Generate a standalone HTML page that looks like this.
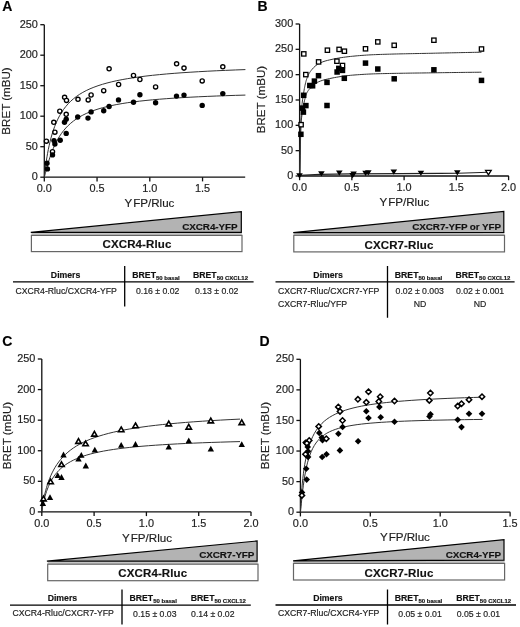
<!DOCTYPE html>
<html><head><meta charset="utf-8"><title>BRET figure</title><style>
html,body{margin:0;padding:0;background:#fff;}
body{width:520px;height:627px;overflow:hidden;}
svg{display:block;filter:blur(0.25px);}
text{font-family:"Liberation Sans", sans-serif;fill:#1e1e1e;stroke:#1e1e1e;stroke-width:0.18px;}
.tk{font-size:10.9px;}
.ti{font-size:11.6px;}
.pl{font-size:14px;font-weight:bold;fill:#000;}
.wt{font-size:9.9px;font-weight:bold;fill:#111;letter-spacing:-0.1px;}
.bt{font-size:11.5px;font-weight:bold;fill:#111;letter-spacing:0.12px;}
.th{font-size:8.7px;font-weight:bold;fill:#111;}
.sub{font-size:6px;}
.tr{font-size:8.7px;}
</style></head>
<body><svg width="520" height="627" viewBox="0 0 520 627">
<rect width="520" height="627" fill="#fff"/>
<path d="M44.3 24.7V177.2H245.2" fill="none" stroke="#111" stroke-width="1.3"/>
<path d="M40.3 177.2H44.3" stroke="#111" stroke-width="1.3"/>
<text x="37.9" y="180.3" text-anchor="end" class="tk">0</text>
<path d="M40.3 146.7H44.3" stroke="#111" stroke-width="1.3"/>
<text x="37.9" y="149.8" text-anchor="end" class="tk">50</text>
<path d="M40.3 116.2H44.3" stroke="#111" stroke-width="1.3"/>
<text x="37.9" y="119.3" text-anchor="end" class="tk">100</text>
<path d="M40.3 85.7H44.3" stroke="#111" stroke-width="1.3"/>
<text x="37.9" y="88.8" text-anchor="end" class="tk">150</text>
<path d="M40.3 55.2H44.3" stroke="#111" stroke-width="1.3"/>
<text x="37.9" y="58.3" text-anchor="end" class="tk">200</text>
<path d="M40.3 24.7H44.3" stroke="#111" stroke-width="1.3"/>
<text x="37.9" y="27.8" text-anchor="end" class="tk">250</text>
<path d="M44.3 177.2V181.4" stroke="#111" stroke-width="1.3"/>
<text x="44.3" y="192.3" text-anchor="middle" class="tk">0.0</text>
<path d="M97.05 177.2V181.4" stroke="#111" stroke-width="1.3"/>
<text x="97.05" y="192.3" text-anchor="middle" class="tk">0.5</text>
<path d="M149.8 177.2V181.4" stroke="#111" stroke-width="1.3"/>
<text x="149.8" y="192.3" text-anchor="middle" class="tk">1.0</text>
<path d="M202.55 177.2V181.4" stroke="#111" stroke-width="1.3"/>
<text x="202.55" y="192.3" text-anchor="middle" class="tk">1.5</text>
<text x="2.2" y="11.4" class="pl">A</text>
<text transform="translate(10.1 101.0) rotate(-90)" text-anchor="middle" class="ti">BRET (mBU)</text>
<text x="149.4" y="207.4" text-anchor="middle" class="ti">Y<tspan dx="1">FP/Rluc</tspan></text>
<path d="M299.6 23.99V176.0H508.8" fill="none" stroke="#111" stroke-width="1.3"/>
<path d="M295.6 176H299.6" stroke="#111" stroke-width="1.3"/>
<text x="293.2" y="179.1" text-anchor="end" class="tk">0</text>
<path d="M295.6 150.66H299.6" stroke="#111" stroke-width="1.3"/>
<text x="293.2" y="153.76" text-anchor="end" class="tk">50</text>
<path d="M295.6 125.33H299.6" stroke="#111" stroke-width="1.3"/>
<text x="293.2" y="128.43" text-anchor="end" class="tk">100</text>
<path d="M295.6 99.99H299.6" stroke="#111" stroke-width="1.3"/>
<text x="293.2" y="103.09" text-anchor="end" class="tk">150</text>
<path d="M295.6 74.66H299.6" stroke="#111" stroke-width="1.3"/>
<text x="293.2" y="77.76" text-anchor="end" class="tk">200</text>
<path d="M295.6 49.32H299.6" stroke="#111" stroke-width="1.3"/>
<text x="293.2" y="52.42" text-anchor="end" class="tk">250</text>
<path d="M295.6 23.99H299.6" stroke="#111" stroke-width="1.3"/>
<text x="293.2" y="27.09" text-anchor="end" class="tk">300</text>
<path d="M299.6 176.0V180.2" stroke="#111" stroke-width="1.3"/>
<text x="299.6" y="191.1" text-anchor="middle" class="tk">0.0</text>
<path d="M351.85 176.0V180.2" stroke="#111" stroke-width="1.3"/>
<text x="351.85" y="191.1" text-anchor="middle" class="tk">0.5</text>
<path d="M404.1 176.0V180.2" stroke="#111" stroke-width="1.3"/>
<text x="404.1" y="191.1" text-anchor="middle" class="tk">1.0</text>
<path d="M456.35 176.0V180.2" stroke="#111" stroke-width="1.3"/>
<text x="456.35" y="191.1" text-anchor="middle" class="tk">1.5</text>
<path d="M508.6 176.0V180.2" stroke="#111" stroke-width="1.3"/>
<text x="508.6" y="191.1" text-anchor="middle" class="tk">2.0</text>
<text x="257.6" y="11.3" class="pl">B</text>
<text transform="translate(264.9 99.6) rotate(-90)" text-anchor="middle" class="ti">BRET (mBU)</text>
<text x="404.4" y="206.3" text-anchor="middle" class="ti">Y<tspan dx="1">FP/Rluc</tspan></text>
<path d="M41.8 359V511.9H251.2" fill="none" stroke="#111" stroke-width="1.3"/>
<path d="M37.8 511.9H41.8" stroke="#111" stroke-width="1.3"/>
<text x="35.4" y="515" text-anchor="end" class="tk">0</text>
<path d="M37.8 481.32H41.8" stroke="#111" stroke-width="1.3"/>
<text x="35.4" y="484.42" text-anchor="end" class="tk">50</text>
<path d="M37.8 450.74H41.8" stroke="#111" stroke-width="1.3"/>
<text x="35.4" y="453.84" text-anchor="end" class="tk">100</text>
<path d="M37.8 420.16H41.8" stroke="#111" stroke-width="1.3"/>
<text x="35.4" y="423.26" text-anchor="end" class="tk">150</text>
<path d="M37.8 389.58H41.8" stroke="#111" stroke-width="1.3"/>
<text x="35.4" y="392.68" text-anchor="end" class="tk">200</text>
<path d="M37.8 359H41.8" stroke="#111" stroke-width="1.3"/>
<text x="35.4" y="362.1" text-anchor="end" class="tk">250</text>
<path d="M41.8 511.9V516.1" stroke="#111" stroke-width="1.3"/>
<text x="41.8" y="527" text-anchor="middle" class="tk">0.0</text>
<path d="M94.1 511.9V516.1" stroke="#111" stroke-width="1.3"/>
<text x="94.1" y="527" text-anchor="middle" class="tk">0.5</text>
<path d="M146.4 511.9V516.1" stroke="#111" stroke-width="1.3"/>
<text x="146.4" y="527" text-anchor="middle" class="tk">1.0</text>
<path d="M198.7 511.9V516.1" stroke="#111" stroke-width="1.3"/>
<text x="198.7" y="527" text-anchor="middle" class="tk">1.5</text>
<path d="M251 511.9V516.1" stroke="#111" stroke-width="1.3"/>
<text x="251" y="527" text-anchor="middle" class="tk">2.0</text>
<text x="2.2" y="346.0" class="pl">C</text>
<text transform="translate(10.6 435.5) rotate(-90)" text-anchor="middle" class="ti">BRET (mBU)</text>
<text x="147.0" y="541.5" text-anchor="middle" class="ti">Y<tspan dx="1">FP/Rluc</tspan></text>
<path d="M300.4 359.3V512.2H510.3" fill="none" stroke="#111" stroke-width="1.3"/>
<path d="M296.4 512.2H300.4" stroke="#111" stroke-width="1.3"/>
<text x="294" y="515.3" text-anchor="end" class="tk">0</text>
<path d="M296.4 481.62H300.4" stroke="#111" stroke-width="1.3"/>
<text x="294" y="484.72" text-anchor="end" class="tk">50</text>
<path d="M296.4 451.04H300.4" stroke="#111" stroke-width="1.3"/>
<text x="294" y="454.14" text-anchor="end" class="tk">100</text>
<path d="M296.4 420.46H300.4" stroke="#111" stroke-width="1.3"/>
<text x="294" y="423.56" text-anchor="end" class="tk">150</text>
<path d="M296.4 389.88H300.4" stroke="#111" stroke-width="1.3"/>
<text x="294" y="392.98" text-anchor="end" class="tk">200</text>
<path d="M296.4 359.3H300.4" stroke="#111" stroke-width="1.3"/>
<text x="294" y="362.4" text-anchor="end" class="tk">250</text>
<path d="M300.4 512.2V516.4" stroke="#111" stroke-width="1.3"/>
<text x="300.4" y="527.3" text-anchor="middle" class="tk">0.0</text>
<path d="M370.3 512.2V516.4" stroke="#111" stroke-width="1.3"/>
<text x="370.3" y="527.3" text-anchor="middle" class="tk">0.5</text>
<path d="M440.2 512.2V516.4" stroke="#111" stroke-width="1.3"/>
<text x="440.2" y="527.3" text-anchor="middle" class="tk">1.0</text>
<path d="M510.1 512.2V516.4" stroke="#111" stroke-width="1.3"/>
<text x="510.1" y="527.3" text-anchor="middle" class="tk">1.5</text>
<text x="259.6" y="346.0" class="pl">D</text>
<text transform="translate(268.8 435.5) rotate(-90)" text-anchor="middle" class="ti">BRET (mBU)</text>
<text x="404.9" y="541.0" text-anchor="middle" class="ti">Y<tspan dx="1">FP/Rluc</tspan></text>
<path d="M44.3 177.2L44.3 177.19L44.31 177.11L44.33 176.91L44.36 176.53L44.42 175.94L44.51 175.09L44.64 173.94L44.8 172.47L45.01 170.67L45.28 168.52L45.6 166.05L45.99 163.26L46.45 160.17L46.99 156.84L47.6 153.29L48.31 149.57L49.11 145.73L50.01 141.82L51.02 137.89L52.13 133.97L53.37 130.11L54.73 126.33L56.21 122.66L57.84 119.12L59.6 115.73L61.51 112.49L63.57 109.42L65.79 106.51L68.18 103.77L70.74 101.19L73.47 98.77L76.39 96.5L79.49 94.38L82.79 92.4L86.28 90.55L89.98 88.82L93.9 87.22L98.03 85.72L102.38 84.32L106.97 83.02L111.79 81.81L116.84 80.67L122.15 79.62L127.71 78.64L133.53 77.72L139.61 76.86L145.96 76.06L152.59 75.31L159.5 74.61L166.7 73.95L174.19 73.33L181.98 72.76L190.08 72.22L198.48 71.71L207.21 71.23L216.26 70.78L225.63 70.36L235.35 69.96L245.4 69.59" fill="none" stroke="#333" stroke-width="1.0"/>
<path d="M44.3 177.2L44.3 177.2L44.31 177.18L44.33 177.13L44.36 177.02L44.42 176.82L44.51 176.51L44.64 176.06L44.8 175.44L45.01 174.63L45.28 173.61L45.6 172.35L45.99 170.86L46.45 169.12L46.99 167.14L47.6 164.93L48.31 162.5L49.11 159.89L50.01 157.12L51.02 154.23L52.13 151.24L53.37 148.21L54.73 145.16L56.21 142.12L57.84 139.13L59.6 136.21L61.51 133.38L63.57 130.65L65.79 128.05L68.18 125.57L70.74 123.22L73.47 121.01L76.39 118.93L79.49 116.98L82.79 115.16L86.28 113.47L89.98 111.89L93.9 110.42L98.03 109.05L102.38 107.78L106.97 106.61L111.79 105.52L116.84 104.51L122.15 103.57L127.71 102.7L133.53 101.9L139.61 101.15L145.96 100.46L152.59 99.81L159.5 99.21L166.7 98.66L174.19 98.14L181.98 97.66L190.08 97.21L198.48 96.79L207.21 96.4L216.26 96.03L225.63 95.69L235.35 95.37L245.4 95.08" fill="none" stroke="#333" stroke-width="1.0"/>
<circle cx="46.4" cy="141.2" r="2.1" fill="#fff" stroke="#000" stroke-width="1.35"/>
<circle cx="53.8" cy="122.3" r="2.1" fill="#fff" stroke="#000" stroke-width="1.35"/>
<circle cx="54.9" cy="132.2" r="2.1" fill="#fff" stroke="#000" stroke-width="1.35"/>
<circle cx="59.8" cy="111.2" r="2.1" fill="#fff" stroke="#000" stroke-width="1.35"/>
<circle cx="66.2" cy="114.3" r="2.1" fill="#fff" stroke="#000" stroke-width="1.35"/>
<circle cx="52.5" cy="151.7" r="2.1" fill="#fff" stroke="#000" stroke-width="1.35"/>
<circle cx="64.6" cy="97.3" r="2.1" fill="#fff" stroke="#000" stroke-width="1.35"/>
<circle cx="66.5" cy="100.4" r="2.1" fill="#fff" stroke="#000" stroke-width="1.35"/>
<circle cx="78" cy="99.3" r="2.1" fill="#fff" stroke="#000" stroke-width="1.35"/>
<circle cx="88.2" cy="99.9" r="2.1" fill="#fff" stroke="#000" stroke-width="1.35"/>
<circle cx="91.1" cy="95" r="2.1" fill="#fff" stroke="#000" stroke-width="1.35"/>
<circle cx="103.7" cy="90.7" r="2.1" fill="#fff" stroke="#000" stroke-width="1.35"/>
<circle cx="109.1" cy="68.8" r="2.1" fill="#fff" stroke="#000" stroke-width="1.35"/>
<circle cx="118.6" cy="84.5" r="2.1" fill="#fff" stroke="#000" stroke-width="1.35"/>
<circle cx="133.5" cy="75.5" r="2.1" fill="#fff" stroke="#000" stroke-width="1.35"/>
<circle cx="139.9" cy="79.5" r="2.1" fill="#fff" stroke="#000" stroke-width="1.35"/>
<circle cx="155.6" cy="86.9" r="2.1" fill="#fff" stroke="#000" stroke-width="1.35"/>
<circle cx="176.6" cy="63.8" r="2.1" fill="#fff" stroke="#000" stroke-width="1.35"/>
<circle cx="184" cy="68.1" r="2.1" fill="#fff" stroke="#000" stroke-width="1.35"/>
<circle cx="202.2" cy="80.9" r="2.1" fill="#fff" stroke="#000" stroke-width="1.35"/>
<circle cx="222.8" cy="66.8" r="2.1" fill="#fff" stroke="#000" stroke-width="1.35"/>
<circle cx="47.0" cy="163.2" r="2.7" fill="#000"/>
<circle cx="47.4" cy="168.9" r="2.7" fill="#000"/>
<circle cx="52.5" cy="154.9" r="2.7" fill="#000"/>
<circle cx="54.0" cy="140.6" r="2.7" fill="#000"/>
<circle cx="54.9" cy="144" r="2.7" fill="#000"/>
<circle cx="60.2" cy="140.2" r="2.7" fill="#000"/>
<circle cx="66.2" cy="133.4" r="2.7" fill="#000"/>
<circle cx="64.5" cy="122.3" r="2.7" fill="#000"/>
<circle cx="66.2" cy="119.2" r="2.7" fill="#000"/>
<circle cx="77.7" cy="117" r="2.7" fill="#000"/>
<circle cx="88" cy="118.1" r="2.7" fill="#000"/>
<circle cx="91.1" cy="111.9" r="2.7" fill="#000"/>
<circle cx="103.7" cy="110.7" r="2.7" fill="#000"/>
<circle cx="109.1" cy="106.5" r="2.7" fill="#000"/>
<circle cx="118.5" cy="99.9" r="2.7" fill="#000"/>
<circle cx="133.5" cy="102.3" r="2.7" fill="#000"/>
<circle cx="139.9" cy="94.8" r="2.7" fill="#000"/>
<circle cx="155.6" cy="102.8" r="2.7" fill="#000"/>
<circle cx="176.5" cy="96.1" r="2.7" fill="#000"/>
<circle cx="184" cy="95.1" r="2.7" fill="#000"/>
<circle cx="202.2" cy="105.4" r="2.7" fill="#000"/>
<circle cx="222.8" cy="93.6" r="2.7" fill="#000"/>
<path d="M299.8 175.4L320 174.4L350 173.9L400 173.6L440 173.4L458 173.2L488.4 172.3" stroke="#222" stroke-width="1.1" fill="none"/>
<path d="M299.8 176L300.11 155.48L300.2 150L300.42 137.15L300.7 124.6L300.72 124.08L301.03 118.98L301.34 115.43L301.5 113.2L301.65 110.57L301.95 105.06L302 104.5L302.1 103.48L302.26 102.03L302.57 99.78L302.88 97.89L303.18 96L303.2 95.9L303.49 93.95L303.8 91.93L304.11 90L304.4 88.33L304.42 88.24L304.6 87.3L304.72 86.71L305.03 85.27L305.34 83.91L305.65 82.63L305.95 81.44L306.26 80.34L306.57 79.36L306.7 78.98L306.8 78.7L306.88 78.49L307.18 77.69L307.49 76.93L307.8 76.2L308.11 75.52L308.42 74.87L308.72 74.26L309 73.74L309.03 73.68L309.34 73.14L309.65 72.63L309.95 72.15L310.26 71.69L310.4 71.5L310.57 71.27L310.88 70.85L311.18 70.45L311.3 70.3L311.49 70.05L311.8 69.67L313.6 67.61L315.9 65.51L317.5 64.4L318.2 63.99L320.5 62.8L322.8 61.82L325.1 61.05L326 60.8L327.4 60.44L329.7 59.88L332 59.36L334.3 58.87L336.6 58.43L338.9 58.02L341.2 57.65L343.5 57.31L345.8 57L348.1 56.71L350.4 56.45L351.9 56.3L352.7 56.22L355 56L357.3 55.79L359.6 55.6L361.9 55.42L364.2 55.25L366.5 55.09L368.8 54.95L371.1 54.82L373.4 54.71L375.7 54.61L376 54.6L378 54.52L380.3 54.44L382.6 54.36L384.9 54.29L387.2 54.22L389.5 54.16L391.8 54.09L394.1 54.03L396.4 53.98L398.7 53.92L401 53.87L403.3 53.82L405.6 53.77L407.9 53.72L410.2 53.68L412.5 53.63L414.8 53.59L417.1 53.54L419.4 53.5L421.7 53.45L424 53.41L426.3 53.36L428.6 53.32L430.9 53.27L433.2 53.22L434 53.2L435.5 53.17L437.8 53.12L440.1 53.06L442.4 53.01L444.7 52.96L447 52.91L449.3 52.86L451.6 52.81L453.9 52.77L456.2 52.72L458.5 52.67L460.8 52.62L463.1 52.57L465.4 52.52L467.7 52.48L470 52.43L472.3 52.38L474.6 52.34L476.9 52.29L479.2 52.25L481.5 52.2" fill="none" stroke="#333" stroke-width="1.0"/>
<path d="M299.8 176L300.11 159.06L300.3 150L300.42 144.94L300.72 132.16L301 124.6L301.03 124.11L301.34 120.11L301.65 117.27L301.95 114.95L302 114.6L302.1 113.87L302.26 112.76L302.57 110.88L302.88 109.16L303.18 107.49L303.2 107.4L303.49 105.77L303.8 104.08L304.11 102.46L304.4 101.06L304.42 100.99L304.6 100.2L304.72 99.7L305.03 98.48L305.34 97.32L305.65 96.22L305.95 95.21L306.26 94.3L306.57 93.51L306.7 93.21L306.8 93L306.88 92.85L307.18 92.26L307.49 91.72L307.8 91.22L308.11 90.75L308.42 90.31L308.72 89.9L309 89.56L309.03 89.52L309.34 89.16L309.65 88.81L309.95 88.47L310.26 88.15L310.4 88L310.57 87.82L310.88 87.51L311.18 87.19L311.3 87.08L311.49 86.89L311.8 86.58L313.6 84.94L315.9 83.21L317.5 82.3L318.2 81.97L320.5 81.02L322.8 80.25L325.1 79.62L326 79.4L327.4 79.08L329.7 78.57L332 78.09L334.3 77.64L336.6 77.22L338.9 76.83L341.2 76.46L343.5 76.13L345.8 75.84L348.1 75.57L350.4 75.33L351.9 75.2L352.7 75.13L355 74.95L357.3 74.77L359.6 74.61L361.9 74.46L364.2 74.32L366.5 74.19L368.8 74.07L371.1 73.97L373.4 73.88L375.7 73.81L376 73.8L378 73.74L380.3 73.68L382.6 73.62L384.9 73.57L387.2 73.52L389.5 73.47L391.8 73.42L394.1 73.38L396.4 73.34L398.7 73.3L401 73.26L403.3 73.22L405.6 73.19L407.9 73.15L410.2 73.12L412.5 73.09L414.8 73.06L417.1 73.03L419.4 73L421.7 72.97L424 72.94L426.3 72.91L428.6 72.88L430.9 72.84L433.2 72.81L434 72.8L435.5 72.78L437.8 72.75L440.1 72.71L442.4 72.68L444.7 72.65L447 72.62L449.3 72.59L451.6 72.56L453.9 72.53L456.2 72.5L458.5 72.47L460.8 72.44L463.1 72.41L465.4 72.38L467.7 72.35L470 72.33L472.3 72.3L474.6 72.28L476.9 72.25L479.2 72.22L481.5 72.2" fill="none" stroke="#333" stroke-width="1.0"/>
<rect x="301.65" y="51.75" width="4.3" height="4.3" fill="#fff" stroke="#000" stroke-width="1.3"/>
<rect x="325.25" y="48.05" width="4.3" height="4.3" fill="#fff" stroke="#000" stroke-width="1.3"/>
<rect x="336.95" y="47.25" width="4.3" height="4.3" fill="#fff" stroke="#000" stroke-width="1.3"/>
<rect x="342.25" y="49.05" width="4.3" height="4.3" fill="#fff" stroke="#000" stroke-width="1.3"/>
<rect x="363.35" y="46.65" width="4.3" height="4.3" fill="#fff" stroke="#000" stroke-width="1.3"/>
<rect x="316.45" y="59.75" width="4.3" height="4.3" fill="#fff" stroke="#000" stroke-width="1.3"/>
<rect x="334.75" y="59.05" width="4.3" height="4.3" fill="#fff" stroke="#000" stroke-width="1.3"/>
<rect x="340.35" y="63.35" width="4.3" height="4.3" fill="#fff" stroke="#000" stroke-width="1.3"/>
<rect x="303.65" y="72.45" width="4.3" height="4.3" fill="#fff" stroke="#000" stroke-width="1.3"/>
<rect x="298.95" y="122.55" width="4.3" height="4.3" fill="#fff" stroke="#000" stroke-width="1.3"/>
<rect x="375.65" y="39.75" width="4.3" height="4.3" fill="#fff" stroke="#000" stroke-width="1.3"/>
<rect x="392.05" y="43.15" width="4.3" height="4.3" fill="#fff" stroke="#000" stroke-width="1.3"/>
<rect x="431.75" y="38.05" width="4.3" height="4.3" fill="#fff" stroke="#000" stroke-width="1.3"/>
<rect x="479.35" y="46.85" width="4.3" height="4.3" fill="#fff" stroke="#000" stroke-width="1.3"/>
<rect x="362.75" y="60.35" width="5.5" height="5.5" fill="#000"/>
<rect x="336.05" y="65.65" width="5.5" height="5.5" fill="#000"/>
<rect x="334.35" y="69.25" width="5.5" height="5.5" fill="#000"/>
<rect x="339.75" y="67.65" width="5.5" height="5.5" fill="#000"/>
<rect x="341.55" y="75.55" width="5.5" height="5.5" fill="#000"/>
<rect x="315.75" y="72.95" width="5.5" height="5.5" fill="#000"/>
<rect x="311.65" y="78.35" width="5.5" height="5.5" fill="#000"/>
<rect x="324.25" y="79.65" width="5.5" height="5.5" fill="#000"/>
<rect x="307.05" y="82.75" width="5.5" height="5.5" fill="#000"/>
<rect x="309.85" y="83.05" width="5.5" height="5.5" fill="#000"/>
<rect x="300.95" y="92.55" width="5.5" height="5.5" fill="#000"/>
<rect x="303.15" y="102.85" width="5.5" height="5.5" fill="#000"/>
<rect x="299.75" y="105.35" width="5.5" height="5.5" fill="#000"/>
<rect x="300.65" y="109.35" width="5.5" height="5.5" fill="#000"/>
<rect x="324.25" y="102.75" width="5.5" height="5.5" fill="#000"/>
<rect x="298.15" y="131.55" width="5.5" height="5.5" fill="#000"/>
<rect x="375.05" y="66.25" width="5.5" height="5.5" fill="#000"/>
<rect x="391.45" y="76.05" width="5.5" height="5.5" fill="#000"/>
<rect x="431.15" y="67.05" width="5.5" height="5.5" fill="#000"/>
<rect x="478.75" y="77.65" width="5.5" height="5.5" fill="#000"/>
<path d="M299.5 178.46L302.8 173.26L296.2 173.26Z" fill="#000"/>
<path d="M321.4 176.46L324.7 171.26L318.1 171.26Z" fill="#000"/>
<path d="M339.3 175.76L342.6 170.56L336 170.56Z" fill="#000"/>
<path d="M352.6 178.26L355.9 173.06L349.3 173.06Z" fill="#000"/>
<path d="M353.6 176.76L356.9 171.56L350.3 171.56Z" fill="#000"/>
<path d="M365.6 175.96L368.9 170.76L362.3 170.76Z" fill="#000"/>
<path d="M368.3 175.56L371.6 170.36L365 170.36Z" fill="#000"/>
<path d="M393.8 174.76L397.1 169.56L390.5 169.56Z" fill="#000"/>
<path d="M420.9 175.86L424.2 170.66L417.6 170.66Z" fill="#000"/>
<path d="M457.3 175.46L460.6 170.26L454 170.26Z" fill="#000"/>
<path d="M488.4 174.82L491.2 170.42L485.6 170.42Z" fill="#fff" stroke="#000" stroke-width="1.3" stroke-linejoin="miter"/>
<path d="M41.8 511.9L41.8 511.88L41.81 511.77L41.83 511.54L41.86 511.14L41.92 510.56L42.01 509.77L42.13 508.77L42.29 507.53L42.5 506.07L42.77 504.37L43.08 502.46L43.47 500.35L43.92 498.05L44.45 495.58L45.06 492.98L45.75 490.25L46.54 487.44L47.43 484.57L48.42 481.65L49.52 478.72L50.74 475.8L52.08 472.9L53.54 470.05L55.14 467.26L56.88 464.53L58.76 461.89L60.79 459.33L62.98 456.86L65.34 454.49L67.86 452.22L70.55 450.05L73.42 447.98L76.48 446.01L79.73 444.14L83.18 442.35L86.83 440.66L90.68 439.06L94.75 437.54L99.05 436.1L103.56 434.74L108.31 433.45L113.3 432.23L118.53 431.08L124.01 429.98L129.74 428.95L135.73 427.97L141.99 427.05L148.53 426.17L155.34 425.35L162.43 424.56L169.81 423.82L177.49 423.11L185.47 422.45L193.76 421.81L202.36 421.21L211.28 420.64L220.52 420.1L230.09 419.59L240 419.1" fill="none" stroke="#333" stroke-width="1.0"/>
<path d="M41.8 511.9L41.8 511.89L41.81 511.82L41.83 511.67L41.86 511.39L41.92 510.96L42.01 510.36L42.13 509.56L42.29 508.57L42.5 507.36L42.77 505.95L43.08 504.34L43.47 502.54L43.92 500.56L44.45 498.44L45.06 496.2L45.75 493.86L46.54 491.45L47.43 489L48.42 486.54L49.52 484.08L50.74 481.66L52.08 479.28L53.54 476.97L55.14 474.73L56.88 472.57L58.76 470.51L60.79 468.54L62.98 466.67L65.34 464.89L67.86 463.21L70.55 461.63L73.42 460.14L76.48 458.74L79.73 457.42L83.18 456.19L86.83 455.03L90.68 453.94L94.75 452.93L99.05 451.98L103.56 451.09L108.31 450.25L113.3 449.47L118.53 448.74L124.01 448.05L129.74 447.41L135.73 446.8L141.99 446.24L148.53 445.71L155.34 445.21L162.43 444.74L169.81 444.3L177.49 443.89L185.47 443.49L193.76 443.13L202.36 442.78L211.28 442.45L220.52 442.15L230.09 441.85L240 441.58" fill="none" stroke="#333" stroke-width="1.0"/>
<path d="M50.6 479.12L53.3 483.81L47.9 483.81Z" fill="#fff" stroke="#000" stroke-width="1.6" stroke-linejoin="miter"/>
<path d="M61.5 461.81L64.2 466.51L58.8 466.51Z" fill="#fff" stroke="#000" stroke-width="1.6" stroke-linejoin="miter"/>
<path d="M78.5 438.72L81.2 443.42L75.8 443.42Z" fill="#fff" stroke="#000" stroke-width="1.6" stroke-linejoin="miter"/>
<path d="M85.6 441.12L88.3 445.81L82.9 445.81Z" fill="#fff" stroke="#000" stroke-width="1.6" stroke-linejoin="miter"/>
<path d="M94.4 431.42L97.1 436.12L91.7 436.12Z" fill="#fff" stroke="#000" stroke-width="1.6" stroke-linejoin="miter"/>
<path d="M121.2 427.02L123.9 431.72L118.5 431.72Z" fill="#fff" stroke="#000" stroke-width="1.6" stroke-linejoin="miter"/>
<path d="M135.5 423.02L138.2 427.72L132.8 427.72Z" fill="#fff" stroke="#000" stroke-width="1.6" stroke-linejoin="miter"/>
<path d="M168.75 421.17L171.45 425.87L166.05 425.87Z" fill="#fff" stroke="#000" stroke-width="1.6" stroke-linejoin="miter"/>
<path d="M188.75 424.42L191.45 429.12L186.05 429.12Z" fill="#fff" stroke="#000" stroke-width="1.6" stroke-linejoin="miter"/>
<path d="M210.8 418.22L213.5 422.92L208.1 422.92Z" fill="#fff" stroke="#000" stroke-width="1.6" stroke-linejoin="miter"/>
<path d="M241.75 419.92L244.45 424.62L239.05 424.62Z" fill="#fff" stroke="#000" stroke-width="1.6" stroke-linejoin="miter"/>
<path d="M43.5 496.22L46.2 500.92L40.8 500.92Z" fill="#fff" stroke="#000" stroke-width="1.6" stroke-linejoin="miter"/>
<path d="M63.5 451.61L66.7 457.41L60.3 457.41Z" fill="#000"/>
<path d="M57.7 472.21L60.9 478.01L54.5 478.01Z" fill="#000"/>
<path d="M61.5 474.11L64.7 479.91L58.3 479.91Z" fill="#000"/>
<path d="M50 494.31L53.2 500.11L46.8 500.11Z" fill="#000"/>
<path d="M81.3 452.01L84.5 457.81L78.1 457.81Z" fill="#000"/>
<path d="M78.5 455.81L81.7 461.61L75.3 461.61Z" fill="#000"/>
<path d="M85.8 462.61L89 468.41L82.6 468.41Z" fill="#000"/>
<path d="M94.8 446.81L98 452.61L91.6 452.61Z" fill="#000"/>
<path d="M121.2 442.01L124.4 447.81L118 447.81Z" fill="#000"/>
<path d="M135.5 441.11L138.7 446.91L132.3 446.91Z" fill="#000"/>
<path d="M168.75 443.81L171.95 449.61L165.55 449.61Z" fill="#000"/>
<path d="M188.75 437.56L191.95 443.36L185.55 443.36Z" fill="#000"/>
<path d="M210.8 445.81L214 451.61L207.6 451.61Z" fill="#000"/>
<path d="M241.75 441.31L244.95 447.11L238.55 447.11Z" fill="#000"/>
<path d="M42.9 500.11L46.1 505.91L39.7 505.91Z" fill="#000"/>
<path d="M300.4 512.2L300.4 512.16L300.41 511.96L300.42 511.47L300.46 510.63L300.51 509.36L300.59 507.63L300.7 505.4L300.85 502.68L301.05 499.49L301.29 495.88L301.58 491.89L301.93 487.6L302.35 483.1L302.83 478.44L303.39 473.73L304.03 469.02L304.76 464.37L305.57 459.84L306.48 455.46L307.49 451.27L308.61 447.29L309.84 443.53L311.19 439.99L312.66 436.68L314.25 433.59L315.98 430.72L317.85 428.05L319.86 425.58L322.02 423.29L324.34 421.17L326.81 419.21L329.45 417.4L332.26 415.73L335.25 414.18L338.42 412.75L341.77 411.43L345.31 410.21L349.05 409.08L353 408.03L357.15 407.06L361.51 406.15L366.09 405.31L370.9 404.54L375.93 403.81L381.2 403.13L386.7 402.5L392.46 401.92L398.46 401.37L404.71 400.86L411.23 400.38L418.02 399.93L425.07 399.51L432.4 399.11L440.02 398.74L447.92 398.39L456.11 398.06L464.6 397.76L473.4 397.46L482.5 397.19" fill="none" stroke="#333" stroke-width="1.0"/>
<path d="M300.4 512.2L300.4 512.2L300.41 512.17L300.42 512.06L300.46 511.82L300.51 511.38L300.59 510.66L300.7 509.6L300.85 508.13L301.05 506.2L301.29 503.79L301.58 500.87L301.93 497.49L302.35 493.68L302.83 489.54L303.39 485.15L304.03 480.6L304.76 476.02L305.57 471.48L306.48 467.06L307.49 462.83L308.61 458.84L309.84 455.11L311.19 451.66L312.66 448.49L314.25 445.6L315.98 442.98L317.85 440.6L319.86 438.46L322.02 436.53L324.34 434.79L326.81 433.23L329.45 431.83L332.26 430.57L335.25 429.44L338.42 428.42L341.77 427.5L345.31 426.67L349.05 425.93L353 425.25L357.15 424.64L361.51 424.09L366.09 423.59L370.9 423.13L375.93 422.72L381.2 422.34L386.7 422L392.46 421.68L398.46 421.4L404.71 421.13L411.23 420.89L418.02 420.67L425.07 420.46L432.4 420.27L440.02 420.1L447.92 419.94L456.11 419.79L464.6 419.65L473.4 419.52L482.5 419.4" fill="none" stroke="#333" stroke-width="1.0"/>
<path d="M366.3 407.9L369.6 411.2L366.3 414.5L363 411.2Z" fill="#000"/>
<path d="M368.5 414.7L371.8 418L368.5 421.3L365.2 418Z" fill="#000"/>
<path d="M342.6 423.7L345.9 427L342.6 430.3L339.3 427Z" fill="#000"/>
<path d="M338.4 430.5L341.7 433.8L338.4 437.1L335.1 433.8Z" fill="#000"/>
<path d="M358.1 438L361.4 441.3L358.1 444.6L354.8 441.3Z" fill="#000"/>
<path d="M339.9 447.1L343.2 450.4L339.9 453.7L336.6 450.4Z" fill="#000"/>
<path d="M319.3 429.6L322.6 432.9L319.3 436.2L316 432.9Z" fill="#000"/>
<path d="M321.8 434.2L325.1 437.5L321.8 440.8L318.5 437.5Z" fill="#000"/>
<path d="M322.5 437L325.8 440.3L322.5 443.6L319.2 440.3Z" fill="#000"/>
<path d="M322.2 453.7L325.5 457L322.2 460.3L318.9 457Z" fill="#000"/>
<path d="M326.5 450.9L329.8 454.2L326.5 457.5L323.2 454.2Z" fill="#000"/>
<path d="M305.5 439.3L308.8 442.6L305.5 445.9L302.2 442.6Z" fill="#000"/>
<path d="M307.7 443.6L311 446.9L307.7 450.2L304.4 446.9Z" fill="#000"/>
<path d="M308 447.9L311.3 451.2L308 454.5L304.7 451.2Z" fill="#000"/>
<path d="M308.1 453.6L311.4 456.9L308.1 460.2L304.8 456.9Z" fill="#000"/>
<path d="M306.2 465.5L309.5 468.8L306.2 472.1L302.9 468.8Z" fill="#000"/>
<path d="M306.7 476.3L310 479.6L306.7 482.9L303.4 479.6Z" fill="#000"/>
<path d="M302 489.1L305.3 492.4L302 495.7L298.7 492.4Z" fill="#000"/>
<path d="M379.4 403.6L382.7 406.9L379.4 410.2L376.1 406.9Z" fill="#000"/>
<path d="M380.7 413.9L384 417.2L380.7 420.5L377.4 417.2Z" fill="#000"/>
<path d="M394.5 418.4L397.8 421.7L394.5 425L391.2 421.7Z" fill="#000"/>
<path d="M430.5 410.9L433.8 414.2L430.5 417.5L427.2 414.2Z" fill="#000"/>
<path d="M429.5 413.1L432.8 416.4L429.5 419.7L426.2 416.4Z" fill="#000"/>
<path d="M457.7 416.5L461 419.8L457.7 423.1L454.4 419.8Z" fill="#000"/>
<path d="M461.5 423.8L464.8 427.1L461.5 430.4L458.2 427.1Z" fill="#000"/>
<path d="M469 410.4L472.3 413.7L469 417L465.7 413.7Z" fill="#000"/>
<path d="M482 410.4L485.3 413.7L482 417L478.7 413.7Z" fill="#000"/>
<path d="M368.5 389.1L371.2 391.8L368.5 394.5L365.8 391.8Z" fill="#fff" stroke="#000" stroke-width="1.5"/>
<path d="M357.9 396.6L360.6 399.3L357.9 402L355.2 399.3Z" fill="#fff" stroke="#000" stroke-width="1.5"/>
<path d="M366.3 399.6L369 402.3L366.3 405L363.6 402.3Z" fill="#fff" stroke="#000" stroke-width="1.5"/>
<path d="M338.3 404.2L341 406.9L338.3 409.6L335.6 406.9Z" fill="#fff" stroke="#000" stroke-width="1.5"/>
<path d="M340 408.7L342.7 411.4L340 414.1L337.3 411.4Z" fill="#fff" stroke="#000" stroke-width="1.5"/>
<path d="M342.5 417.8L345.2 420.5L342.5 423.2L339.8 420.5Z" fill="#fff" stroke="#000" stroke-width="1.5"/>
<path d="M318.7 423.7L321.4 426.4L318.7 429.1L316 426.4Z" fill="#fff" stroke="#000" stroke-width="1.5"/>
<path d="M326.3 436L329 438.7L326.3 441.4L323.6 438.7Z" fill="#fff" stroke="#000" stroke-width="1.5"/>
<path d="M309.2 437.7L311.9 440.4L309.2 443.1L306.5 440.4Z" fill="#fff" stroke="#000" stroke-width="1.5"/>
<path d="M306.8 440.5L309.5 443.2L306.8 445.9L304.1 443.2Z" fill="#fff" stroke="#000" stroke-width="1.5"/>
<path d="M305.5 451.5L308.2 454.2L305.5 456.9L302.8 454.2Z" fill="#fff" stroke="#000" stroke-width="1.5"/>
<path d="M380.2 394L382.9 396.7L380.2 399.4L377.5 396.7Z" fill="#fff" stroke="#000" stroke-width="1.5"/>
<path d="M378.8 398.8L381.5 401.5L378.8 404.2L376.1 401.5Z" fill="#fff" stroke="#000" stroke-width="1.5"/>
<path d="M394.5 398.3L397.2 401L394.5 403.7L391.8 401Z" fill="#fff" stroke="#000" stroke-width="1.5"/>
<path d="M430.4 390.3L433.1 393L430.4 395.7L427.7 393Z" fill="#fff" stroke="#000" stroke-width="1.5"/>
<path d="M429.3 397.7L432 400.4L429.3 403.1L426.6 400.4Z" fill="#fff" stroke="#000" stroke-width="1.5"/>
<path d="M457.7 403.4L460.4 406.1L457.7 408.8L455 406.1Z" fill="#fff" stroke="#000" stroke-width="1.5"/>
<path d="M461.5 401L464.2 403.7L461.5 406.4L458.8 403.7Z" fill="#fff" stroke="#000" stroke-width="1.5"/>
<path d="M469 397L471.7 399.7L469 402.4L466.3 399.7Z" fill="#fff" stroke="#000" stroke-width="1.5"/>
<path d="M482 394L484.7 396.7L482 399.4L479.3 396.7Z" fill="#fff" stroke="#000" stroke-width="1.5"/>
<path d="M301.9 492.7L304.6 495.4L301.9 498.1L299.2 495.4Z" fill="#fff" stroke="#000" stroke-width="1.5"/>
<rect x="31.4" y="232.4" width="210.5" height="3" fill="#c4c4c4"/>
<path d="M30.8 232.4L241.3 211.7L241.3 232.4Z" fill="#b3b3b3" stroke="#000" stroke-width="1.2" stroke-linejoin="miter"/>
<rect x="31.4" y="235.4" width="210.6" height="16.2" fill="#fff" stroke="#666" stroke-width="1.2"/>
<text x="237.4" y="230" text-anchor="end" class="wt">CXCR4-YFP</text>
<text x="137" y="248.3" text-anchor="middle" class="bt">CXCR4-Rluc</text>
<rect x="293.8" y="232.4" width="210.6" height="2.9" fill="#c4c4c4"/>
<path d="M293.2 232.6L503.8 211.5L503.8 232.4Z" fill="#b3b3b3" stroke="#000" stroke-width="1.2" stroke-linejoin="miter"/>
<rect x="293.8" y="235.3" width="210.7" height="16.6" fill="#fff" stroke="#666" stroke-width="1.2"/>
<text x="500.9" y="230.1" text-anchor="end" class="wt">CXCR7-YFP or YFP</text>
<text x="399" y="248.5" text-anchor="middle" class="bt">CXCR7-Rluc</text>
<rect x="47.7" y="561.2" width="210" height="3" fill="#c4c4c4"/>
<path d="M46.9 561.2L257.1 541L257.1 561.2Z" fill="#b3b3b3" stroke="#000" stroke-width="1.2" stroke-linejoin="miter"/>
<rect x="47.7" y="564.2" width="210.3" height="16.5" fill="#fff" stroke="#666" stroke-width="1.2"/>
<text x="254.3" y="558.4" text-anchor="end" class="wt">CXCR7-YFP</text>
<text x="152.8" y="577.3" text-anchor="middle" class="bt">CXCR4-Rluc</text>
<rect x="293.5" y="560.2" width="211.1" height="3.2" fill="#c4c4c4"/>
<path d="M293.1 560.8L504 539.6L504 560.2Z" fill="#b3b3b3" stroke="#000" stroke-width="1.2" stroke-linejoin="miter"/>
<rect x="293.5" y="563.4" width="211.1" height="16.6" fill="#fff" stroke="#666" stroke-width="1.2"/>
<text x="500.9" y="557.8" text-anchor="end" class="wt">CXCR4-YFP</text>
<text x="399" y="577" text-anchor="middle" class="bt">CXCR7-Rluc</text>
<path d="M13 281.9H253.6M124.7 266V306.4" stroke="#000" stroke-width="1.3" fill="none"/>
<text x="65.6" y="278.1" text-anchor="middle" class="th">Dimers</text>
<text x="132.3" y="277.5" class="th">BRET<tspan class="sub" dy="2.2">50 basal</tspan></text>
<text x="193" y="277.5" class="th">BRET<tspan class="sub" dy="2.2">50 CXCL12</tspan></text>
<text x="15.5" y="293.8" class="tr">CXCR4-Rluc/CXCR4-YFP</text>
<text x="135.9" y="294" text-anchor="start" class="tr">0.16 ± 0.02</text>
<text x="195" y="294" text-anchor="start" class="tr">0.13 ± 0.02</text>
<path d="M275.5 281.9H514.6M387.5 266V317.7" stroke="#000" stroke-width="1.3" fill="none"/>
<text x="328.1" y="278.1" text-anchor="middle" class="th">Dimers</text>
<text x="394.8" y="277.5" class="th">BRET<tspan class="sub" dy="2.2">50 basal</tspan></text>
<text x="455.4" y="277.5" class="th">BRET<tspan class="sub" dy="2.2">50 CXCL12</tspan></text>
<text x="278" y="293.8" class="tr">CXCR7-Rluc/CXCR7-YFP</text>
<text x="395.6" y="294" text-anchor="start" class="tr">0.02 ± 0.003</text>
<text x="455.9" y="294" text-anchor="start" class="tr">0.02 ± 0.001</text>
<text x="278" y="306.8" class="tr">CXCR7-Rluc/YFP</text>
<text x="420.1" y="307" text-anchor="middle" class="tr">ND</text>
<text x="480" y="307" text-anchor="middle" class="tr">ND</text>
<path d="M10 605.1H250.8M122 589.5V624.5" stroke="#000" stroke-width="1.3" fill="none"/>
<text x="62.4" y="601.3" text-anchor="middle" class="th">Dimers</text>
<text x="129.5" y="600.5" class="th">BRET<tspan class="sub" dy="2.2">50 basal</tspan></text>
<text x="190.8" y="600.5" class="th">BRET<tspan class="sub" dy="2.2">50 CXCL12</tspan></text>
<text x="12.5" y="616.3" class="tr">CXCR4-Rluc/CXCR7-YFP</text>
<text x="133.1" y="616.8" text-anchor="start" class="tr">0.15 ± 0.03</text>
<text x="191.1" y="616.8" text-anchor="start" class="tr">0.14 ± 0.02</text>
<path d="M275.5 605H516M387.5 589.5V624.4" stroke="#000" stroke-width="1.3" fill="none"/>
<text x="327.9" y="601.3" text-anchor="middle" class="th">Dimers</text>
<text x="394.8" y="600.6" class="th">BRET<tspan class="sub" dy="2.2">50 basal</tspan></text>
<text x="456.2" y="600.6" class="th">BRET<tspan class="sub" dy="2.2">50 CXCL12</tspan></text>
<text x="278" y="616.3" class="tr">CXCR7-Rluc/CXCR4-YFP</text>
<text x="398.3" y="617.2" text-anchor="start" class="tr">0.05 ± 0.01</text>
<text x="456.7" y="617.2" text-anchor="start" class="tr">0.05 ± 0.01</text>
</svg></body></html>
